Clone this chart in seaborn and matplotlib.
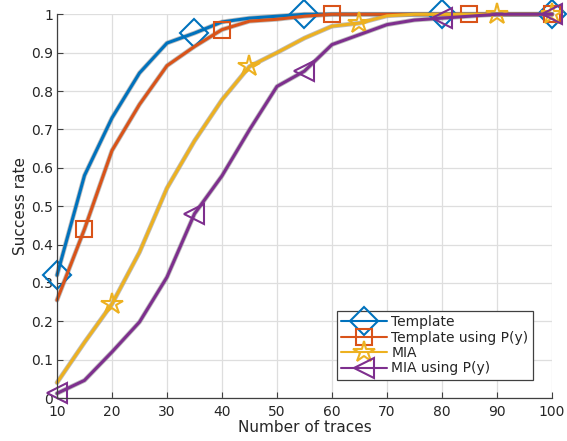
import matplotlib
matplotlib.use("Agg")
import matplotlib.pyplot as plt
import numpy as np
import pandas as pd
import seaborn as sns

# traces axis (step 5)
n_traces = [10, 15, 20, 25, 30, 35, 40, 45, 50, 55, 60, 65, 70, 75, 80, 85, 90, 95, 100]

template = [0.32, 0.58, 0.73, 0.847, 0.925, 0.951, 0.98, 0.99, 0.995, 1.0,
            1.0, 1.0, 1.0, 1.0, 1.0, 1.0, 1.0, 1.0, 1.0]
template_py = [0.255, 0.44, 0.645, 0.765, 0.866, 0.916, 0.96, 0.982, 0.987, 0.995,
               1.0, 1.0, 1.0, 1.0, 1.0, 1.0, 1.0, 1.0, 1.0]
mia = [0.04, 0.145, 0.245, 0.38, 0.547, 0.67, 0.777, 0.864, 0.9, 0.938,
       0.969, 0.977, 0.996, 1.0, 1.0, 1.0, 1.0, 1.0, 1.0]
mia_py = [0.012, 0.046, 0.12, 0.198, 0.315, 0.48, 0.579, 0.699, 0.812, 0.852,
          0.921, 0.947, 0.973, 0.985, 0.99, 0.995, 1.0, 1.0, 1.0]

labels = ["Template", "Template using P(y)", "MIA", "MIA using P(y)"]
colors = ["#0072BD", "#D95319", "#EDB120", "#7E2F8E"]
markers = ["D", "s", "*", "<"]
msizes = [14, 12, 16, 14]
# which points carry a marker
mark_idx = [[0, 5, 9, 14, 18], [1, 6, 10, 15, 18], [2, 7, 11, 16, 18], [0, 5, 9, 14, 18]]

df = pd.DataFrame({"traces": n_traces, labels[0]: template, labels[1]: template_py,
                   labels[2]: mia, labels[3]: mia_py})

sns.set_theme(style="whitegrid")
plt.rcParams['font.family'] = ['DejaVu Sans']

fig, ax = plt.subplots(figsize=(5.67, 4.41), dpi=100)
fig.subplots_adjust(left=0.1005, right=0.9735, bottom=0.0975, top=0.9676)

# gray halo under each curve
for lab in labels:
    sns.lineplot(data=df, x="traces", y=lab, ax=ax, color="#8a8a8a", alpha=0.55,
                 linewidth=3.4, clip_on=False)

for lab, col, mk, ms, idx in zip(labels, colors, markers, msizes, mark_idx):
    sns.lineplot(data=df, x="traces", y=lab, ax=ax, color=col, linewidth=2.2,
                 marker=mk, markersize=ms, markevery=idx, markerfacecolor="none",
                 markeredgecolor=col, markeredgewidth=1.5, label=lab, clip_on=False)

ax.set_xlim(10, 100)
ax.set_ylim(0, 1)
ax.set_xticks(np.arange(10, 101, 10))
ax.set_yticks(np.arange(0, 1.01, 0.1))
ax.set_yticklabels(["0", "0.1", "0.2", "0.3", "0.4", "0.5", "0.6", "0.7", "0.8", "0.9", "1"])
ax.set_xlabel("Number of traces", fontsize=11, color="#262626", labelpad=1)
ax.set_ylabel("Success rate", fontsize=11, color="#262626", labelpad=2)
ax.tick_params(axis="both", direction="in", length=4, width=0.8, colors="#404040",
               labelsize=10, labelcolor="#262626", pad=3)
ax.tick_params(axis="x", pad=5)
ax.tick_params(axis="both", which="both", bottom=True, left=True)
ax.grid(True, color="#dedede", linewidth=0.9)
for side in ["top", "right"]:
    ax.spines[side].set_visible(False)
for side in ["left", "bottom"]:
    ax.spines[side].set_color("#404040")
    ax.spines[side].set_linewidth(0.9)

leg = ax.legend(loc="lower right", fontsize=10, handlelength=3.3, frameon=True,
                fancybox=False, edgecolor="#404040", framealpha=1,
                borderpad=0.3, labelspacing=0.1, handletextpad=0.3,
                bbox_to_anchor=(0.975, 0.03))
leg.get_frame().set_linewidth(0.9)
for ln in leg.get_lines():
    ln.set_linewidth(1.5)

fig.savefig("out.png", dpi=100)
